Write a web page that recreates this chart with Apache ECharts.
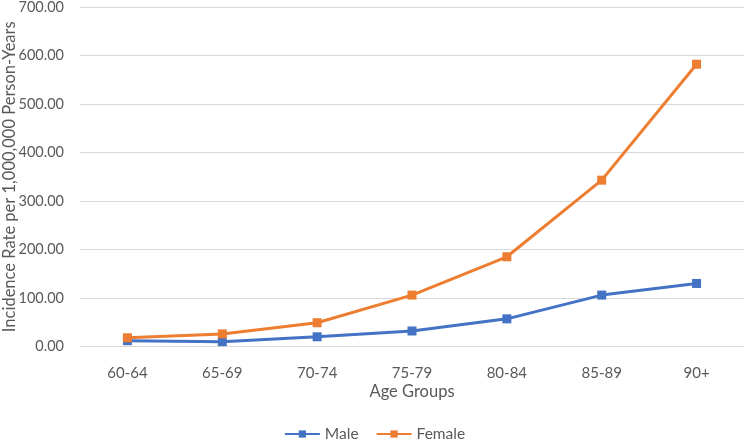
<!DOCTYPE html>
<html>
<head>
<meta charset="utf-8">
<script src="https://cdn.jsdelivr.net/npm/echarts@6/dist/echarts.min.js"></script>
<style>html,body{margin:0;padding:0;background:#fff}#c{width:749px;height:443px}</style>
</head>
<body>
<div id="c"></div>
<script>
const categories = ['60-64', '65-69', '70-74', '75-79', '80-84', '85-89', '90+'];
const maleValues = [12, 10, 20, 32, 57, 106, 130];
const femaleValues = [18, 26, 49, 106, 185, 343, 582];
const yTicks = [0, 100, 200, 300, 400, 500, 600, 700];

const chart = echarts.init(document.getElementById('c'));
const font = 'Lato, sans-serif';
chart.setOption({
  animation: false,
  textStyle: { fontFamily: font },
  grid: { left: 80, right: 5, top: 7, bottom: 96.5, containLabel: false, outerBoundsMode: 'none' },
  xAxis: {
    type: 'category',
    data: categories,
    name: 'Age Groups',
    nameLocation: 'middle',
    nameGap: 37,
    nameMoveOverlap: false,
    nameTextStyle: { fontSize: 16.5, color: '#595959', fontFamily: font },
    axisLine: { lineStyle: { color: '#d9d9d9', width: 1 } },
    axisTick: { show: false },
    axisLabel: { fontSize: 15, color: '#595959', margin: 19, fontFamily: font }
  },
  yAxis: {
    type: 'value',
    min: yTicks[0],
    max: yTicks[yTicks.length - 1],
    interval: 100,
    name: 'Incidence Rate per 1,000,000 Person-Years',
    nameLocation: 'middle',
    nameGap: 62,
    nameMoveOverlap: false,
    nameTextStyle: { fontSize: 16.5, color: '#595959', fontFamily: font },
    axisLine: { show: false },
    axisTick: { show: false },
    splitLine: { lineStyle: { color: '#d9d9d9', width: 1 } },
    axisLabel: { fontSize: 14.5, color: '#595959', margin: 16, fontFamily: font, formatter: v => v.toFixed(2) }
  },
  legend: {
    bottom: -4,
    left: 'center',
    itemWidth: 35,
    itemHeight: 9,
    itemGap: 17,
    itemTextGap: 3,
    textStyle: { fontSize: 15.5, color: '#595959', fontFamily: font },
    data: ['Male', 'Female']
  },
  series: [
    {
      name: 'Male', type: 'line', data: maleValues,
      symbol: 'rect', symbolSize: 9,
      lineStyle: { color: '#4472C4', width: 3 },
      itemStyle: { color: '#4472C4' }
    },
    {
      name: 'Female', type: 'line', data: femaleValues,
      symbol: 'rect', symbolSize: 9,
      lineStyle: { color: '#ED7D31', width: 3 },
      itemStyle: { color: '#ED7D31' }
    }
  ]
});
</script>
</body>
</html>
